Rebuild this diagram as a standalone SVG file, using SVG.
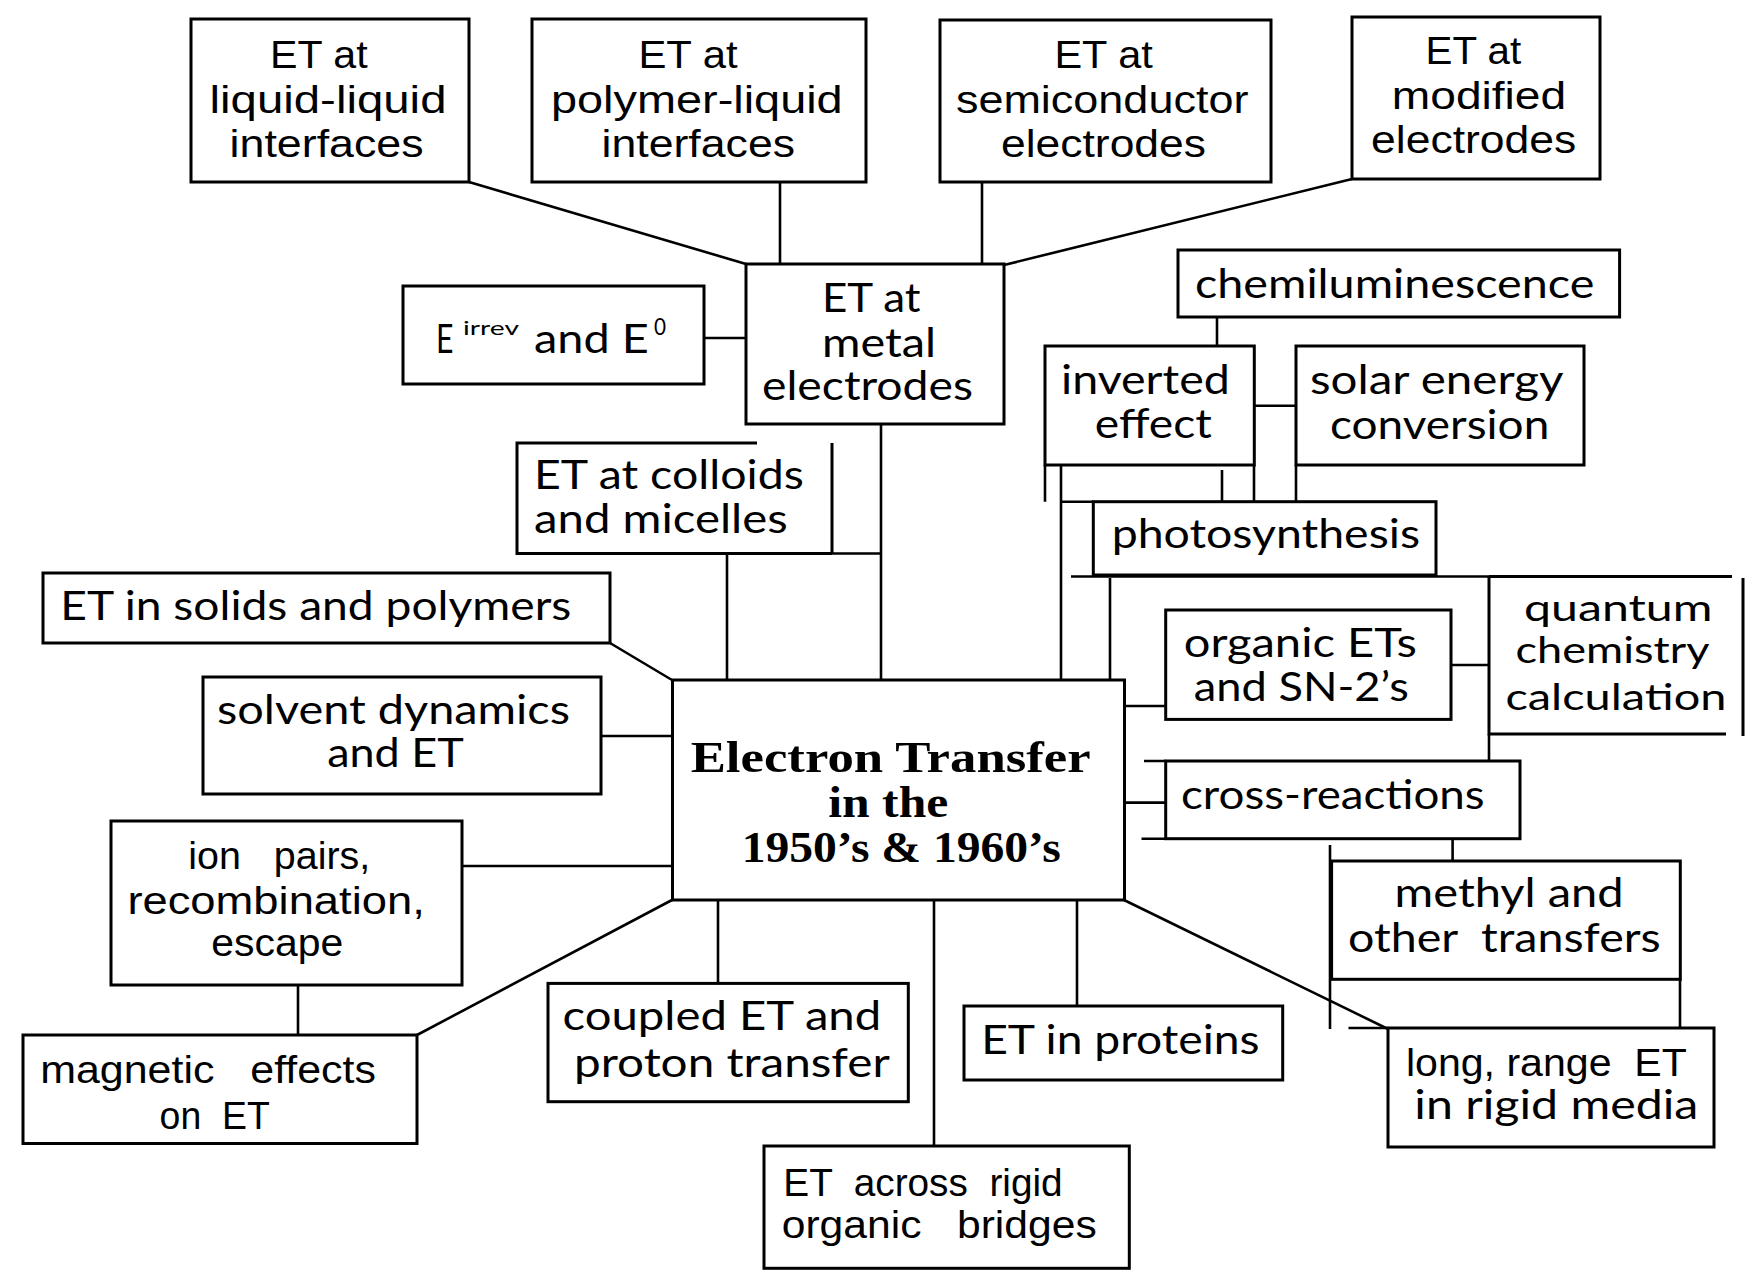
<svg xmlns="http://www.w3.org/2000/svg" width="1762" height="1282" viewBox="0 0 1762 1282">
<style>
.b{fill:#fff;stroke:#000;stroke-width:3}
.p{fill:none;stroke:#000;stroke-width:3}
.l{fill:none;stroke:#000;stroke-width:2.6}
.a{font-family:"Liberation Sans",Arial,sans-serif;font-size:38px;fill:#000;white-space:pre}
.h{font-family:Lato,"Open Sans",sans-serif;font-size:40px;fill:#000;white-space:pre}
.s{font-family:"Liberation Serif","Times New Roman",serif;font-weight:bold;font-size:44px;fill:#000}
.sup1{font-size:20px}
.sup2{font-size:24px}
.q{font-size:37px}
</style>
<rect width="1762" height="1282" fill="#fff"/>
<g id="connectors">
<path class="l" d="M469,182 L746,264 M780,182 V264 M982,182 V265 M1352,179 L1004,265 M704,338 H746"/>
<path class="l" d="M881,424 V680 M832,553.5 H881 M727,553.5 V680"/>
<path class="l" d="M610,643 L672,680 M601,736 H672 M462,866 H672 M298,985 V1035 M417,1035 L672,900"/>
<path class="l" d="M718,900 V983 M934,900 V1146 M1077,900 V1006 M1124,900 L1388,1029"/>
<path class="l" d="M1124,706 H1166 M1124,802.6 H1166 M1451,665 H1489"/>
<path class="l" d="M1217,317 V346 M1254,405.7 H1296 M1061,465 V680 M1110,578 V680 M1071,576.5 H1489"/>
<path class="l" d="M1222,470 V501.7 M1061,501.7 H1093 M1045,465 V501.7 M1254,465 V501.7 M1296,465 V501.7"/>
<path class="l" d="M1489,734 V761 M1144,761 H1166 M1141.5,838.7 H1166 M1452.6,838.7 V861"/>
<path class="l" d="M1330,845 V1029 M1680,979 V1028 M1348.5,1028 H1388"/>
</g>
<g id="n-liquid-liquid">
<rect class="b" x="191" y="19" width="278" height="163"/>
<text class="a" x="270" y="68" textLength="97.6" lengthAdjust="spacingAndGlyphs">ET at</text>
<text class="a" x="209.5" y="113" textLength="237" lengthAdjust="spacingAndGlyphs">liquid-liquid</text>
<text class="a" x="229.6" y="157" textLength="194" lengthAdjust="spacingAndGlyphs">interfaces</text>
</g>
<g id="n-polymer-liquid">
<rect class="b" x="532" y="19" width="334" height="163"/>
<text class="a" x="638.4" y="68" textLength="99.3" lengthAdjust="spacingAndGlyphs">ET at</text>
<text class="a" x="551" y="113" textLength="291.7" lengthAdjust="spacingAndGlyphs">polymer-liquid</text>
<text class="a" x="601.6" y="157" textLength="193.4" lengthAdjust="spacingAndGlyphs">interfaces</text>
</g>
<g id="n-semiconductor">
<rect class="b" x="940" y="20" width="331" height="162"/>
<text class="a" x="1054.4" y="68" textLength="98.4" lengthAdjust="spacingAndGlyphs">ET at</text>
<text class="a" x="955.9" y="113" textLength="292.5" lengthAdjust="spacingAndGlyphs">semiconductor</text>
<text class="a" x="1001" y="157" textLength="205" lengthAdjust="spacingAndGlyphs">electrodes</text>
</g>
<g id="n-modified">
<rect class="b" x="1352" y="17" width="248" height="162"/>
<text class="a" x="1425.6" y="64" textLength="95.6" lengthAdjust="spacingAndGlyphs">ET at</text>
<text class="a" x="1391.8" y="108.6" textLength="174.4" lengthAdjust="spacingAndGlyphs">modified</text>
<text class="a" x="1371" y="152.6" textLength="205.3" lengthAdjust="spacingAndGlyphs">electrodes</text>
</g>
<g id="n-metal">
<rect class="b" x="746" y="264" width="258" height="160"/>
<text class="h" x="822" y="312" textLength="98.5" lengthAdjust="spacingAndGlyphs">ET at</text>
<text class="h" x="822" y="356.5" textLength="114" lengthAdjust="spacingAndGlyphs">metal</text>
<text class="h" x="762" y="400" textLength="211" lengthAdjust="spacingAndGlyphs">electrodes</text>
</g>
<g id="n-eirrev">
<rect class="b" x="403" y="286" width="301" height="98"/>
<text class="h" x="436" y="353" textLength="17.5" lengthAdjust="spacingAndGlyphs">E</text>
<text class="h sup1" x="463" y="335" textLength="56" lengthAdjust="spacingAndGlyphs">irrev</text>
<text class="h" x="534" y="353" textLength="114.7" lengthAdjust="spacingAndGlyphs">and E</text>
<text class="h sup2" x="654" y="335" textLength="12" lengthAdjust="spacingAndGlyphs">0</text>
</g>
<g id="n-colloids">
<path class="p" d="M757,443 H517 V553.5 H832 M832,443 V553.5"/>
<text class="h" x="534" y="489" textLength="269.8" lengthAdjust="spacingAndGlyphs">ET at colloids</text>
<text class="h" x="534" y="533" textLength="253.7" lengthAdjust="spacingAndGlyphs">and micelles</text>
</g>
<g id="n-solids">
<rect class="b" x="43" y="573" width="567" height="70"/>
<text class="h" x="60.3" y="620" textLength="511" lengthAdjust="spacingAndGlyphs">ET in solids and polymers</text>
</g>
<g id="n-solvent">
<rect class="b" x="203" y="677" width="398" height="117"/>
<text class="h" x="217" y="723.6" textLength="353" lengthAdjust="spacingAndGlyphs">solvent dynamics</text>
<text class="h" x="327.2" y="767" textLength="136.6" lengthAdjust="spacingAndGlyphs">and ET</text>
</g>
<g id="n-center">
<rect class="b" x="672.5" y="680" width="452" height="220"/>
<text class="s" x="690.7" y="771.7" textLength="400" lengthAdjust="spacingAndGlyphs">Electron Transfer</text>
<text class="s" x="828.3" y="816.7" textLength="120" lengthAdjust="spacingAndGlyphs">in the</text>
<text class="s" x="741.7" y="861.7" textLength="319" lengthAdjust="spacingAndGlyphs">1950’s &amp; 1960’s</text>
</g>
<g id="n-ion">
<rect class="b" x="111" y="821" width="351" height="164"/>
<text class="a" x="188.3" y="869" textLength="182" lengthAdjust="spacingAndGlyphs">ion   pairs,</text>
<text class="a" x="127.4" y="913.6" textLength="297.4" lengthAdjust="spacingAndGlyphs">recombination,</text>
<text class="a" x="211.3" y="956.4" textLength="132" lengthAdjust="spacingAndGlyphs">escape</text>
</g>
<g id="n-magnetic">
<rect class="b" x="23" y="1035" width="394" height="108.5"/>
<text class="a" x="40.2" y="1083" textLength="335.8" lengthAdjust="spacingAndGlyphs">magnetic   effects</text>
<text class="a" x="159.6" y="1129" textLength="110.2" lengthAdjust="spacingAndGlyphs">on  ET</text>
</g>
<g id="n-coupled">
<rect class="b" x="548" y="983.4" width="360.3" height="118.3"/>
<text class="h" x="562.6" y="1030" textLength="318.6" lengthAdjust="spacingAndGlyphs">coupled ET and</text>
<text class="h" x="574" y="1076.7" textLength="315.8" lengthAdjust="spacingAndGlyphs">proton transfer</text>
</g>
<g id="n-across">
<rect class="b" x="764" y="1146" width="365.3" height="122.3"/>
<text class="a" x="783.3" y="1196" textLength="279.4" lengthAdjust="spacingAndGlyphs">ET  across  rigid</text>
<text class="a" x="781.7" y="1238.3" textLength="315" lengthAdjust="spacingAndGlyphs">organic   bridges</text>
</g>
<g id="n-proteins">
<rect class="b" x="964" y="1006" width="318.7" height="74"/>
<text class="h" x="981.2" y="1053.5" textLength="278.4" lengthAdjust="spacingAndGlyphs">ET in proteins</text>
</g>
<g id="n-longrange">
<rect class="b" x="1388" y="1028" width="326" height="119"/>
<text class="a" x="1405.9" y="1075.7" textLength="281" lengthAdjust="spacingAndGlyphs">long, range  ET</text>
<text class="h" x="1414.3" y="1118.6" textLength="284" lengthAdjust="spacingAndGlyphs">in rigid media</text>
</g>
<g id="n-methyl">
<rect class="b" x="1331.6" y="861" width="348.7" height="118.3"/>
<text class="h" x="1394.6" y="906.5" textLength="229" lengthAdjust="spacingAndGlyphs">methyl and</text>
<text class="h" x="1348" y="952" textLength="312.7" lengthAdjust="spacingAndGlyphs">other  transfers</text>
</g>
<g id="n-cross">
<rect class="b" x="1165.7" y="761" width="354.3" height="77.7"/>
<text class="h" x="1181" y="808.8" textLength="303.6" lengthAdjust="spacingAndGlyphs">cross-reactions</text>
</g>
<g id="n-organic">
<rect class="b" x="1165.7" y="610" width="285.3" height="109.4"/>
<text class="h" x="1183.7" y="657" textLength="233.3" lengthAdjust="spacingAndGlyphs">organic ETs</text>
<text class="h" x="1193.8" y="700.7" textLength="215" lengthAdjust="spacingAndGlyphs">and SN-2’s</text>
</g>
<g id="n-quantum">
<path class="p" d="M1489,576.5 H1732 M1489,576.5 V734 H1726 M1743,578 V736"/>
<text class="h q" x="1524" y="621" textLength="188.4" lengthAdjust="spacingAndGlyphs">quantum</text>
<text class="h q" x="1515.5" y="663" textLength="194" lengthAdjust="spacingAndGlyphs">chemistry</text>
<text class="h q" x="1505.4" y="710" textLength="221" lengthAdjust="spacingAndGlyphs">calculation</text>
</g>
<g id="n-chemiluminescence">
<rect class="b" x="1178" y="250" width="441.6" height="67"/>
<text class="h" x="1195" y="298" textLength="399.3" lengthAdjust="spacingAndGlyphs">chemiluminescence</text>
</g>
<g id="n-inverted">
<rect class="b" x="1045" y="346" width="209.3" height="119"/>
<text class="h" x="1061" y="394" textLength="168.8" lengthAdjust="spacingAndGlyphs">inverted</text>
<text class="h" x="1094.8" y="438.3" textLength="117" lengthAdjust="spacingAndGlyphs">effect</text>
</g>
<g id="n-solar">
<rect class="b" x="1296" y="346" width="288" height="119"/>
<text class="h" x="1310" y="394" textLength="253.4" lengthAdjust="spacingAndGlyphs">solar energy</text>
<text class="h" x="1330" y="439" textLength="219.3" lengthAdjust="spacingAndGlyphs">conversion</text>
</g>
<g id="n-photosynthesis">
<rect class="b" x="1093.3" y="501.7" width="342.7" height="73.3"/>
<text class="h" x="1111.7" y="548.3" textLength="308.3" lengthAdjust="spacingAndGlyphs">photosynthesis</text>
</g>
</svg>
